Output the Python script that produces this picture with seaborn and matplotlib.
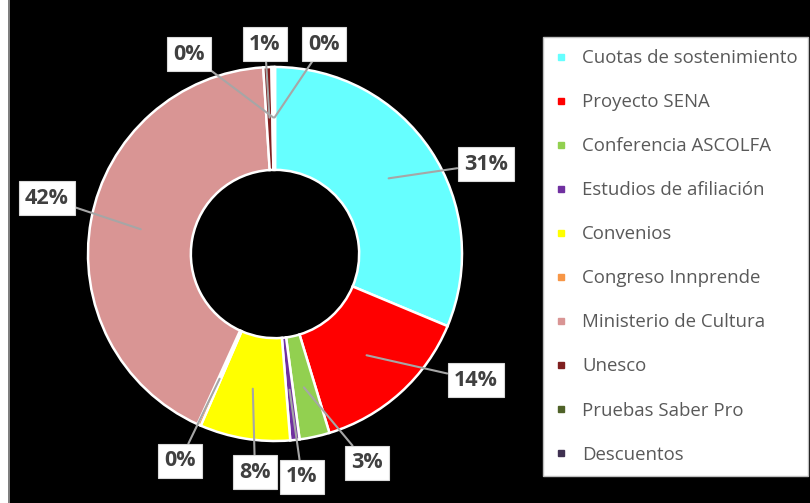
import numpy as np
import matplotlib.pyplot as plt
import seaborn as sns
from matplotlib.lines import Line2D
from matplotlib.patches import Rectangle

# Data read from the donut
categories = ["Cuotas de sostenimiento", "Proyecto SENA", "Conferencia ASCOLFA",
              "Estudios de afiliación", "Convenios", "Congreso Innprende",
              "Ministerio de Cultura", "Unesco", "Pruebas Saber Pro", "Descuentos"]
shares = [31.3, 14.0, 2.6, 0.8, 7.8, 0.3, 42.2, 0.7, 0.2, 0.1]
colors = ["#66FFFF", "#FF0000", "#92D050", "#7030A0", "#FFFF00",
          "#F79646", "#D99594", "#7F1F1F", "#4F6228", "#3F3151"]

# label box centres (pixels in the 810x503 picture)
label_px = [(486, 164), (476, 380), (367, 463), (302, 477), (255, 472),
            (180, 461), (47, 198), (265, 44), (189, 54), (324, 44)]

sns.set_theme(style="white")
plt.rcParams['font.family'] = ['Open Sans', 'DejaVu Sans']

W, H = 810, 503
cx, cy, R = 275, 254, 187

fig = plt.figure(figsize=(W / 100, H / 100), dpi=100, facecolor='black')
ax = fig.add_axes([0, 0, 1, 1])
ax.set_facecolor('black')

wedges, _ = ax.pie(shares, colors=colors, startangle=90, counterclock=False,
                   radius=1, wedgeprops=dict(width=0.55, edgecolor='white', linewidth=1.8))
ax.set_xlim(-cx / R, (W - cx) / R)
ax.set_ylim((cy - H) / R, cy / R)
ax.axis('off')

# percentage labels with leader lines
for w, v, (px, py) in zip(wedges, shares, label_px):
    ang = np.deg2rad((w.theta1 + w.theta2) / 2)
    x0, y0 = 0.73 * np.cos(ang), 0.73 * np.sin(ang)
    tx, ty = (px - cx) / R, (cy - py) / R
    ax.annotate(f"{v:.0f}%", xy=(x0, y0), xytext=(tx, ty),
                ha='center', va='center', fontsize=15.5, fontweight='bold', color='#404040',
                bbox=dict(boxstyle='square,pad=0.3', fc='white', ec='#D9D9D9', lw=0.8),
                arrowprops=dict(arrowstyle='-', color='#A6A6A6', lw=1.5, shrinkA=0, shrinkB=0))

# legend
handles = [Line2D([], [], marker='s', ls='', color=c, markersize=5) for c in colors]
leg = fig.legend(handles, categories, loc='upper left',
                 bbox_to_anchor=(543 / W, 1 - 476 / H, (808 - 543) / W, (476 - 37) / H),
                 mode='expand', frameon=True, fancybox=False, fontsize=13.4,
                 labelspacing=1.4, handlelength=0.63, handletextpad=0.82, borderpad=0.65,
                 borderaxespad=0)
leg.get_frame().set_facecolor('white')
leg.get_frame().set_edgecolor('#BFBFBF')
leg.get_frame().set_alpha(1)
for t in leg.get_texts():
    t.set_color('#595959')

# white strip on the left edge
fig.patches.append(Rectangle((0, 0), 8 / W, 1, transform=fig.transFigure, fc='white', ec='none'))
fig.patches.append(Rectangle((8 / W, 0), 2 / W, 1, transform=fig.transFigure, fc='#7F7F7F', ec='none'))

fig.savefig("out.png", dpi=100, facecolor='black')
